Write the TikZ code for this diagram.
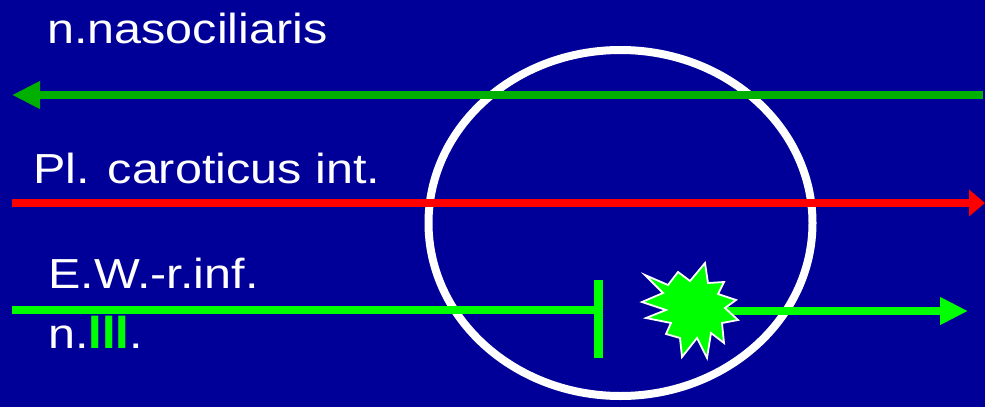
\documentclass[tikz,border=0pt]{standalone}
\usepackage{fontspec}
\setmainfont{Liberation Sans}
\usetikzlibrary{arrows.meta,shapes.geometric}
\definecolor{bgblue}{RGB}{0,0,153}
\definecolor{dgreen}{RGB}{0,176,0}
\definecolor{bgreen}{RGB}{0,255,0}
\definecolor{nred}{RGB}{255,0,0}
\tikzset{
  lbl/.style={anchor=base west,inner sep=0pt,text=white,font=\fontsize{42}{48}\selectfont},
  nerve/.style={line width=8.5pt},
  bighead/.style={-{Triangle[length=28pt,width=26pt]}},
  burststyle/.style={fill=bgreen,draw=white,line width=1.8pt,line join=miter},
}
\newcommand{\wide}[1]{\scalebox{1.155}[1]{#1}}
\begin{document}
\begin{tikzpicture}[x=1pt,y=-1pt]
\fill[bgblue] (0,0) rectangle (985,407);
\useasboundingbox (0,0) rectangle (985,407);
% ellipse (squashed circle)
\node[draw=white,line width=8pt,ellipse,minimum width=384pt,minimum height=346pt,inner sep=0pt] (orbit) at (620.5,223) {};
% labels
\node[lbl] (nasoc) at (47,43) {\wide{n.nasociliaris}};
\node[lbl] (carot) at (33,183) {\wide{Pl. caroticus int.}};
\node[lbl] (ew) at (48,288) {\wide{E.W.-r.inf.}};
\node[lbl] (n3) at (48,348) {\wide{n.{\color{bgreen}\scalebox{1}[1.12]{\bfseries III}}.}};
% top green arrow (leftwards)
\coordinate (nasR) at (983,95);
\coordinate (nasL) at (12,95);
\draw[nerve,dgreen,bighead] (nasR) -- (nasL);
% red arrow (rightwards)
\coordinate (carL) at (12,203);
\coordinate (carR) at (985,203);
\draw[nerve,nred,-{Triangle[length=16pt,width=26pt]}] (carL) -- (carR);
% bottom: blocked line with bar
\coordinate (ewL) at (12,310);
\coordinate (barMid) at (598,310);
\coordinate (barTop) at (598,280);
\coordinate (barBot) at (598,358);
\draw[nerve,bgreen] (ewL) -- (barMid);
\draw[line width=9pt,bgreen] (barTop) -- (barBot);
% continuation after starburst
\coordinate (burstR) at (725,311);
\coordinate (ewR) at (968,311);
\draw[nerve,bgreen,bighead] (burstR) -- (ewR);
% starburst
\draw[burststyle] (645,275) -- (668,285) -- (678,272) -- (690,281) -- (705,263)
  -- (708,283) -- (724,282) -- (718,294) -- (736,300) -- (725,308)
  -- (738,320) -- (722,323) -- (724,343) -- (711,333) -- (707,358)
  -- (697,338) -- (682,357) -- (680,338) -- (666,334) -- (671,323)
  -- (646,318) -- (666,310) -- (642,302) -- (663,293) -- cycle;
\end{tikzpicture}
\end{document}
